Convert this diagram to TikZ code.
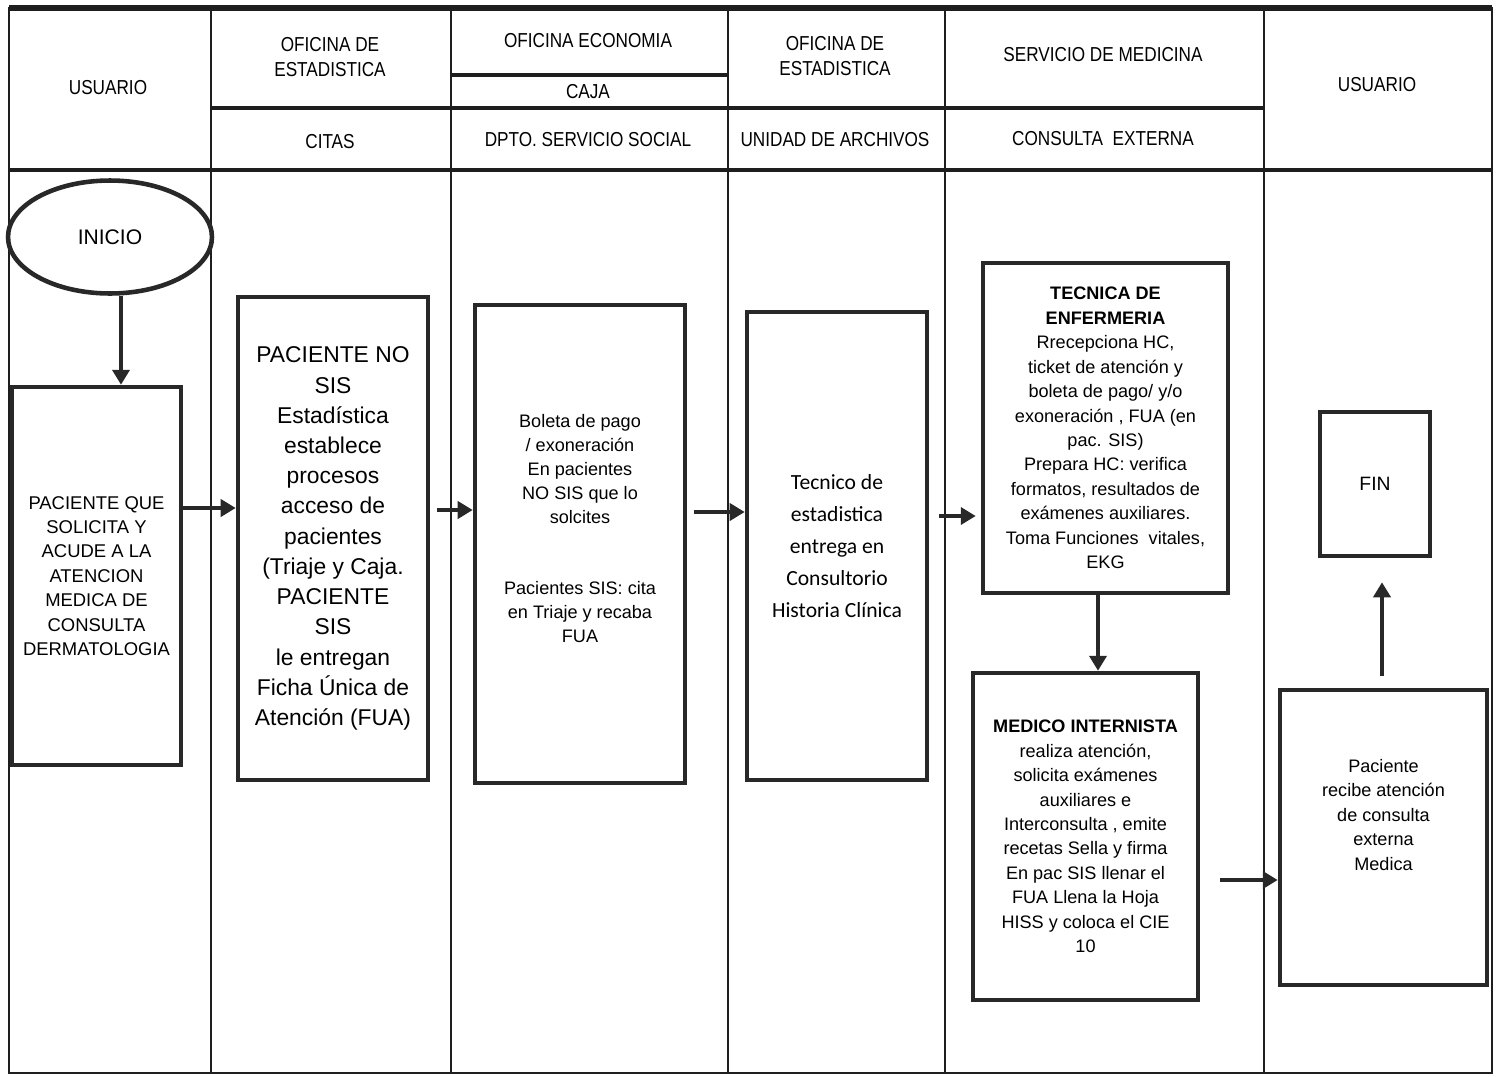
\documentclass[tikz,border=0pt]{standalone}
\usepackage{fontspec}
\setmainfont{Liberation Sans}
\newfontfamily\hdrfont[FakeStretch=0.85]{Liberation Sans}
\newfontfamily\calfont{Carlito}
\usepackage{xcolor}
\usetikzlibrary{arrows.meta,shapes.geometric}
\definecolor{inkgray}{RGB}{40,40,40}
\definecolor{lanegray}{RGB}{30,30,30}
\tikzset{
  lane/.style={draw=lanegray,line width=1.2pt},
  hdrline/.style={draw=lanegray,line width=2.2pt},
  hdrtext/.style={align=center,font=\hdrfont\fontsize{11.5}{14}\selectfont},
  procbox/.style={draw=inkgray,line width=2.6pt,align=center,inner sep=2pt,fill=white},
  startbox/.style={ellipse,draw=inkgray,line width=2.6pt,inner sep=0pt,fill=white},
  flow/.style={-{Triangle[length=3mm,width=3.4mm]},line width=2.2pt,draw=inkgray},
}

\begin{document}
\begin{tikzpicture}[x=0.02cm,y=-0.02cm]
  \useasboundingbox (0,0) rectangle (1498,1076);
  % swimlane frame
  \draw[lane,line width=1.6pt] (9,8) rectangle (1492,1073);
  \draw[hdrline,line width=3pt] (9,8) -- (1492,8);
  \foreach \lx in {211,451,728,945,1264}
    \draw[lane] (\lx,8) -- (\lx,1073);
  \draw[hdrline] (9,170) -- (1492,170);
  \draw[hdrline] (211,108) -- (1264,108);
  \draw[hdrline] (451,75) -- (728,75);

  % headers
  \node[hdrtext] (hUsuarioA) at (108,88) {USUARIO};
  \node[hdrtext] (hEstadA) at (330,57) {OFICINA DE\\ESTADISTICA};
  \node[hdrtext] (hCitas) at (330,142) {CITAS};
  \node[hdrtext] (hEconomia) at (588,41) {OFICINA ECONOMIA};
  \node[hdrtext] (hCaja) at (588,92) {CAJA};
  \node[hdrtext] (hSocial) at (588,140) {DPTO. SERVICIO SOCIAL};
  \node[hdrtext] (hEstadB) at (835,56) {OFICINA DE\\ESTADISTICA};
  \node[hdrtext] (hArchivos) at (835,140) {UNIDAD DE ARCHIVOS};
  \node[hdrtext] (hMedicina) at (1103,55) {SERVICIO DE MEDICINA};
  \node[hdrtext] (hExterna) at (1103,139) {CONSULTA\ \ EXTERNA};
  \node[hdrtext] (hUsuarioB) at (1377,85) {USUARIO};

  % process steps
  \node[startbox,minimum width=4.08cm,minimum height=2.26cm,font=\fontsize{12}{14}\selectfont] (inicio) at (110,237) {INICIO};
  \node[procbox,minimum width=3.38cm,minimum height=7.56cm,font=\fontsize{10.5}{13.9}\selectfont] (paciente) at (96.5,576)
    {PACIENTE QUE\\SOLICITA Y\\ACUDE A LA\\ATENCION\\MEDICA DE\\CONSULTA\\DERMATOLOGIA};
  \node[procbox,minimum width=3.8cm,minimum height=9.66cm,font=\fontsize{13}{17.2}\selectfont] (estad) at (333,538.5)
    {PACIENTE NO\\SIS\\Estadística\\establece\\procesos\\acceso de\\pacientes\\(Triaje y Caja.\\PACIENTE\\SIS\\le entregan\\Ficha Única de\\Atención (FUA)};
  \node[procbox,minimum width=4.2cm,minimum height=9.56cm,font=\fontsize{10.3}{13.6}\selectfont] (caja) at (580,544)
    {Boleta de pago\\/ exoneración\\En pacientes\\NO SIS que lo\\solcites\\[27.2pt]Pacientes SIS: cita\\en Triaje y recaba\\FUA\\[4pt]};
  \node[procbox,minimum width=3.6cm,minimum height=9.36cm,font=\calfont\fontsize{12.3}{18.1}\selectfont] (archivo) at (837,546)
    {Tecnico de\\estadistica\\entrega en\\Consultorio\\Historia Clínica};
  \node[procbox,minimum width=4.9cm,minimum height=6.6cm,font=\fontsize{10.3}{13.9}\selectfont] (tecnica) at (1105.5,428)
    {\textbf{TECNICA DE}\\\textbf{ENFERMERIA}\\Rrecepciona HC,\\ticket de atención y\\boleta de pago/ y/o\\exoneración , FUA (en\\pac. SIS)\\Prepara HC: verifica\\formatos, resultados de\\exámenes auxiliares.\\Toma Funciones\ \ vitales,\\EKG};
  \node[procbox,minimum width=4.5cm,minimum height=6.54cm,font=\fontsize{10.3}{13.9}\selectfont] (medico) at (1085.5,836.5)
    {\textbf{MEDICO INTERNISTA}\\realiza atención,\\solicita exámenes\\auxiliares e\\Interconsulta , emite\\recetas Sella y firma\\En pac SIS llenar el\\FUA Llena la Hoja\\HISS y coloca el CIE\\10};
  \node[procbox,minimum width=4.14cm,minimum height=5.9cm,font=\fontsize{10.3}{13.9}\selectfont] (recibe) at (1383.5,837.5)
    {Paciente\\recibe atención\\de consulta\\externa\\Medica\\[12pt]};
  \node[procbox,minimum width=2.2cm,minimum height=2.88cm,font=\fontsize{11}{13}\selectfont] (fin) at (1375,484) {FIN};

  % connectors
  \coordinate (c0) at (121,0);
  \coordinate (r1) at (0,508);
  \coordinate (r2) at (0,510);
  \coordinate (r3) at (0,512);
  \coordinate (r4) at (0,516);
  \coordinate (c5) at (1098,0);
  \coordinate (r6) at (0,880);
  \coordinate (c7) at (1382,0);
  \draw[flow] (inicio.south -| c0) -- (paciente.north -| c0);
  \draw[flow] (paciente.east |- r1) -- (estad.west |- r1);
  \draw[flow,shorten <=0.14cm] (estad.east |- r2) -- (caja.west |- r2);
  \draw[flow,shorten <=0.14cm] (caja.east |- r3) -- (archivo.west |- r3);
  \draw[flow,shorten <=0.2cm,shorten >=0.1cm] (archivo.east |- r4) -- (tecnica.west |- r4);
  \draw[flow] (tecnica.south -| c5) -- (medico.north -| c5);
  \draw[flow,shorten <=0.4cm] (medico.east |- r6) -- (recibe.west |- r6);
  \draw[flow,shorten <=0.24cm,shorten >=0.48cm] (recibe.north -| c7) -- (fin.south -| c7);
\end{tikzpicture}
\end{document}
